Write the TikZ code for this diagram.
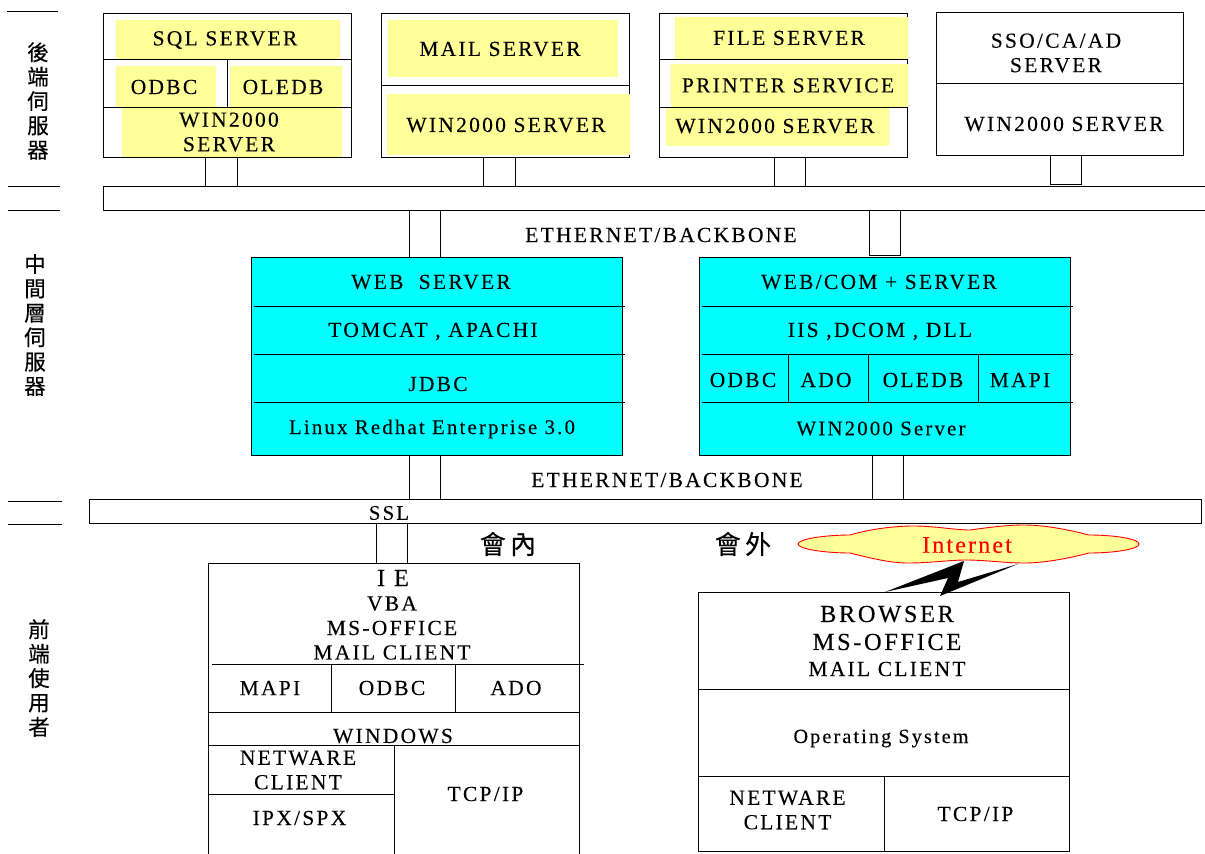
\documentclass[tikz,border=0pt]{standalone}
\usepackage{fontspec}
\setmainfont{Liberation Serif}
\newfontfamily\spfont[LetterSpace=10.5,FakeBold=0.12]{Liberation Serif}
\newfontfamily\inetfont[LetterSpace=9,FakeBold=0.12]{Liberation Serif}
\newfontfamily\cjkfont[FakeBold=0.35]{Noto Sans CJK TC}
\definecolor{yel}{HTML}{FFFF99}
\definecolor{cyn}{HTML}{00FFFF}
\tikzset{
  frame/.style={draw=black,line width=.9pt,inner sep=0,outer sep=0},
  patch/.style={fill=yel,inner sep=0,outer sep=0},
  cyanbox/.style={frame,fill=cyn},
  bare/.style={inner sep=0,outer sep=0},
  txt/.style={inner sep=0,outer sep=0,align=center,font=\spfont\fontsize{21.5}{24.5}\selectfont},
  small/.style={txt,font=\spfont\fontsize{20.8}{24.5}\selectfont},
  osfont/.style={txt,font=\spfont\fontsize{20.2}{24.5}\selectfont},
  big/.style={txt,font=\spfont\fontsize{24.5}{28}\selectfont},
  side/.style={inner sep=0,outer sep=0,align=center,font=\cjkfont\fontsize{21.5}{24.4}\selectfont},
  sidebig/.style={side,font=\cjkfont\fontsize{26}{28}\selectfont},
  rule/.style={line width=.9pt,black}
}
\newcommand\bx[6]{%
  \pgfmathsetmacro\bxw{#4-#2}\pgfmathsetmacro\bxh{#5-#3}%
  \node[#6,minimum width=\bxw pt,minimum height=\bxh pt,anchor=north west] (#1) at (#2,#3) {};}
\newcommand\lnk[4]{\draw[rule] (#1.south -| #3,0) -- (#2.north -| #3,0) (#1.south -| #4,0) -- (#2.north -| #4,0);}
\begin{document}
\begin{tikzpicture}[x=1pt,y=-1pt]
\useasboundingbox (0,0) rectangle (1205,854);
% left tier marks
\draw[rule] (7,11)--(58,11) (8,186)--(60,186) (8,210)--(60,210) (8,501)--(62,501) (8,524)--(62,524);
\node[side] (tierA) at (38,101) {後\\端\\伺\\服\\器};
\node[side] (tierB) at (35,325) {中\\間\\層\\伺\\服\\器};
\node[side] (tierC) at (39,678) {前\\端\\使\\用\\者};

% buses
\bx{busA}{103}{186}{1205}{210}{bare}
\draw[rule] (busA.north east)--(busA.north west)--(busA.south west)--(busA.south east);
\bx{busB}{89}{499}{1201}{523}{frame}

% SQL
\bx{sql}{103}{13}{351}{157}{frame}
\bx{ySql}{116}{20}{340}{59}{patch}
\bx{yOdbc}{116}{66}{216}{107}{patch}
\bx{yOledb}{230}{66}{342}{107}{patch}
\bx{yWinA}{122}{107}{342}{157}{patch}
\draw[rule] (103,59)--(351,59) (103,107)--(351,107) (227,59)--(227,107);
\node[txt] (tSql) at (225,40) {SQL SERVER};
\node[txt] (tOdbc) at (164,87) {ODBC};
\node[txt] (tOledb) at (283,87) {OLEDB};
\node[txt] (tWinA) at (229,132) {WIN2000\\SERVER};
\lnk{sql}{busA}{205}{237}

% MAIL
\bx{mail}{381}{13}{629}{157}{frame}
\bx{yMail}{388}{20}{618}{77}{patch}
\bx{yWinB}{387}{94}{630}{155}{patch}
\draw[rule] (381,85)--(629,85);
\node[txt] (tMail) at (500,49) {MAIL SERVER};
\node[txt] (tWinB) at (506,125) {WIN2000 SERVER};
\lnk{mail}{busA}{483}{515}

% FILE
\bx{file}{659}{13}{907}{157}{frame}
\bx{yFile}{675}{17}{908}{59}{patch}
\bx{yPrint}{671}{64}{908}{107}{patch}
\bx{yWinC}{666}{107}{889}{146}{patch}
\draw[rule] (659,59)--(907,59) (659,107)--(907,107);
\node[txt] (tFile) at (789,38) {FILE SERVER};
\node[txt] (tPrint) at (788,85.5) {PRINTER SERVICE};
\node[txt] (tWinC) at (775,126) {WIN2000 SERVER};
\lnk{file}{busA}{774}{805}

% SSO
\bx{sso}{936}{12}{1183}{155}{frame}
\draw[rule] (936,83)--(1183,83);
\node[txt] (tSso) at (1056,53) {SSO/CA/AD\\SERVER};
\node[txt] (tWinD) at (1064,124) {WIN2000 SERVER};
\draw[rule] (sso.south -| 1050,0) -- (1050,184) -- (1081,184) -- (sso.south -| 1081,0);

% middle tier
\bx{web}{251}{257}{622}{455}{cyanbox}
\draw[rule] (254,306)--(625,306) (254,354)--(625,354) (254,402)--(625,402);
\node[txt] (tWeb) at (431,282) {WEB\ \ SERVER};
\node[txt] (tTomcat) at (433,331.5) {TOMCAT\ , APACHI};
\node[txt] (tJdbc) at (438,384) {JDBC};
\node[small] (tLinux) at (432,429) {Linux Redhat Enterprise 3.0};

\bx{com}{699}{257}{1070}{455}{cyanbox}
\draw[rule] (702,306)--(1073,306) (702,354)--(1073,354) (702,402)--(1073,402)
  (788,354)--(788,402) (868,354)--(868,402) (978,354)--(978,402);
\node[txt] (tCom) at (879,282) {WEB/COM + SERVER};
\node[txt] (tIis) at (880,331.5) {IIS ,DCOM , DLL};
\node[txt] (tOdbcB) at (743,380) {ODBC};
\node[txt] (tAdoB) at (826,380) {ADO};
\node[txt] (tOledbB) at (923,380) {OLEDB};
\node[txt] (tMapiB) at (1020,380) {MAPI};
\node[small] (tWinE) at (881,428.5) {WIN2000 Server};

\draw[rule] (busA.south -| 409,0) -- (web.north -| 409,0) (busA.south -| 440,0) -- (web.north -| 440,0);
\draw[rule] (busA.south -| 869,0) -- (869,255) -- (900,255) -- (busA.south -| 900,0);
\node[txt] (tEthA) at (661,235) {ETHERNET/BACKBONE};
\lnk{web}{busB}{409}{440}
\lnk{com}{busB}{872}{903}
\node[txt] (tEthB) at (667,480) {ETHERNET/BACKBONE};
\node[small] (tSsl) at (389,513) {SSL};

% labels
\node[sidebig] (tIn) at (508,544) {會\,內};
\node[sidebig] (tOut) at (743,544) {會\,外};

% IE client
\bx{ie}{208}{563}{579}{854}{bare}
\draw[rule] (ie.south west)--(ie.north west)--(ie.north east)--(ie.south east);
\draw[rule] (212,664)--(584,664) (208,712)--(579,712) (208,745)--(579,745)
  (331,664)--(331,712) (455,664)--(455,712) (394,745)--(394,854) (208,794)--(394,794);
\node[big] (tIe) at (393,578) {I E};
\node[txt] (tVba) at (392,628) {VBA\\MS-OFFICE\\MAIL CLIENT};
\node[txt] (tMapi) at (270,688) {MAPI};
\node[txt] (tOdbcC) at (392,688) {ODBC};
\node[txt] (tAdoC) at (516,688) {ADO};
\node[txt] (tWin) at (393,736) {WINDOWS};
\node[txt] (tNet) at (298,770) {NETWARE\\CLIENT};
\node[txt] (tIpx) at (299.5,818) {IPX/SPX};
\node[txt] (tTcp) at (485.5,794) {TCP/IP};
\lnk{busB}{ie}{376}{407}

% Browser client
\bx{brw}{698}{592}{1069}{851}{frame}
\draw[rule] (698,689)--(1069,689) (698,776)--(1069,776) (884,776)--(884,851);
\node[big] (tBrw) at (887,628) {BROWSER\\MS-OFFICE};
\node[txt] (tMailC) at (887,669) {MAIL CLIENT};
\node[osfont] (tOs) at (881,738.5) {Operating System};
\node[txt] (tNetB) at (787.5,810) {NETWARE\\CLIENT};
\node[txt] (tTcpB) at (975.5,814) {TCP/IP};

% Internet cloud and lightning
\fill[black] (885,592)--(964,561)--(958,582)--(1018,564)--(940,596)--(948,578)--cycle;
\draw[red,fill=yel,line width=.9pt] (798,544)
  .. controls (798,539) and (825,535) .. (850,535)
  .. controls (870,529) and (895,526) .. (913,526)
  .. controls (935,526) and (955,530) .. (970,530)
  .. controls (985,528) and (1005,525) .. (1024,525)
  .. controls (1045,525) and (1070,530) .. (1089,535)
  .. controls (1115,535) and (1139,539) .. (1139,544)
  .. controls (1139,549) and (1115,553) .. (1089,553)
  .. controls (1070,558) and (1045,563) .. (1024,563)
  .. controls (1005,563) and (985,560) .. (966,560)
  .. controls (950,560) and (930,563) .. (908,563)
  .. controls (890,563) and (870,558) .. (850,553)
  .. controls (825,553) and (798,549) .. (798,544) -- cycle;
\node[txt,text=red,font=\inetfont\fontsize{24}{26}\selectfont] (tNet2) at (967,545) {Internet};
\end{tikzpicture}
\end{document}
